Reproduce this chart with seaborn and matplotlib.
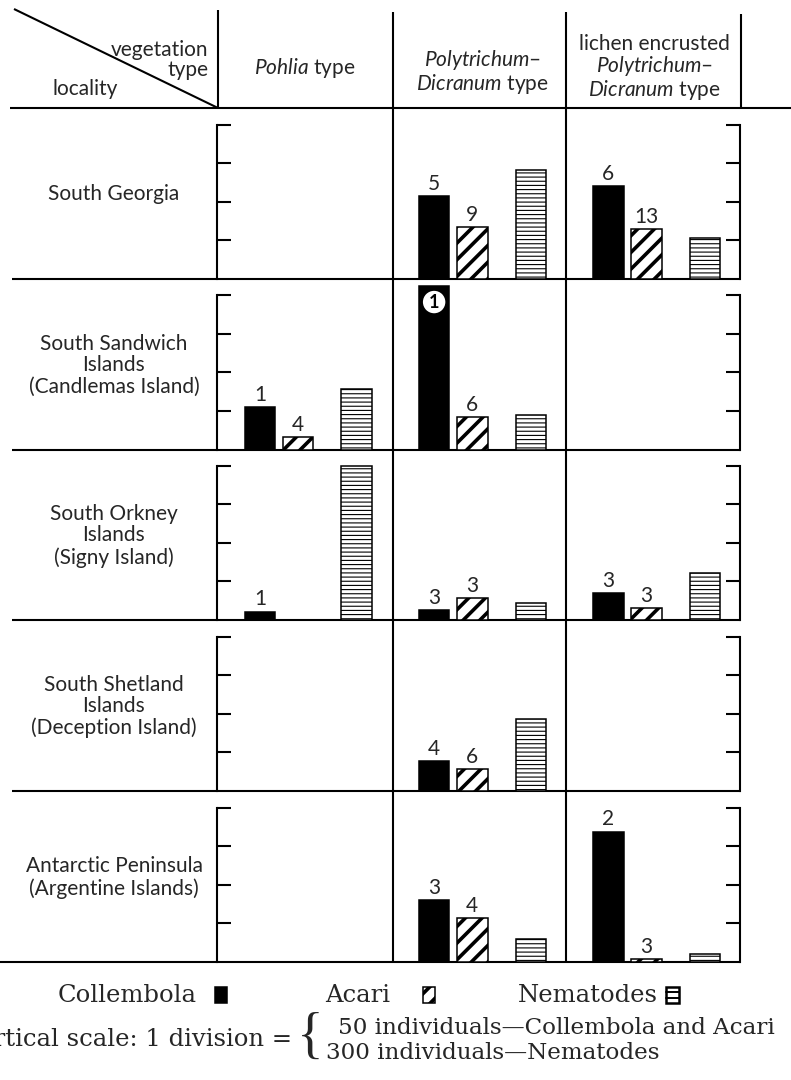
import numpy as np
import pandas as pd
import matplotlib
matplotlib.use("Agg")
import matplotlib.pyplot as plt
import seaborn as sns
from matplotlib.patches import Rectangle

sns.set_theme(style="white")
plt.rcParams["font.family"] = ["Lato", "DejaVu Sans"]
plt.rcParams["mathtext.fontset"] = "custom"
plt.rcParams["mathtext.rm"] = "Lato"
plt.rcParams["mathtext.it"] = "Lato:italic"
plt.rcParams["hatch.linewidth"] = 0.8

# ---------------------------------------------------------------- data
localities = [
    "South Georgia",
    "South Sandwich\nIslands\n(Candlemas Island)",
    "South Orkney\nIslands\n(Signy Island)",
    "South Shetland\nIslands\n(Deception Island)",
    "Antarctic Peninsula\n(Argentine Islands)",
]
vegetation = ["Pohlia", "Polytrichum-Dicranum", "lichen Polytrichum-Dicranum"]
taxa = ["Collembola", "Acari", "Nematodes"]
nan = np.nan

# mean numbers of individuals per sample (rows: locality, cols: vegetation type)
collembola = [[nan, 107, 120], [55, 212, nan], [11, 13, 35], [nan, 39, nan], [nan, 80, 169]]
acari = [[nan, 67, 65], [16, 42, nan], [nan, 28, 15], [nan, 29, nan], [nan, 57, 4]]
nematodes = [[nan, 846, 321], [471, 267, nan], [1194, 129, 363], [nan, 558, nan], [nan, 177, 66]]

# number of samples written above the bars
n_collembola = [[None, 5, 6], [1, 1, None], [1, 3, 3], [None, 4, None], [None, 3, 2]]
n_acari = [[None, 9, 13], [4, 6, None], [None, 3, 3], [None, 6, None], [None, 4, 3]]

# individuals represented by one scale division
per_division = {"Collembola": 50, "Acari": 50, "Nematodes": 300}

# ---------------------------------------------------------------- layout (pixels)
FW, FH = 791, 1080
fig = plt.figure(figsize=(FW / 100, FH / 100), dpi=100)
bg = fig.add_axes([0, 0, 1, 1])
bg.set_xlim(0, FW)
bg.set_ylim(FH, 0)
bg.axis("off")

COL_W = 174.3
COL_X0 = 218.0
DIV = 38.6
YTOP = 4.35
baselines = [279, 449.5, 620, 791, 962]
row_tops = [108] + baselines[:-1]
AX_L, AX_R = 217, 740
slot = {"Collembola": 0.240, "Acari": 0.459, "Nematodes": 0.795}

LW = 1.5
line_kw = dict(color="black", lw=LW, solid_capstyle="butt")

# header frame
bg.plot([14, 218], [9, 108], **line_kw)
bg.plot([10, 791], [108, 108], **line_kw)
bg.plot([218, 218], [10, 108], **line_kw)
bg.plot([741, 741], [14, 108], **line_kw)
for xs in (393, 566):
    bg.plot([xs, xs], [12, 962], **line_kw)
for i, b in enumerate(baselines):
    bg.plot([0 if i == len(baselines) - 1 else 12, 741], [b, b], **line_kw)

# header texts
HF = 15
bg.text(208, 60, "vegetation\ntype", ha="right", va="center", fontsize=HF,
        multialignment="right", linespacing=1.0)
bg.text(53, 89, "locality", ha="left", va="center", fontsize=HF)
bg.text(305, 68, r"$\mathit{Pohlia}$ type", ha="center", va="center", fontsize=HF)
bg.text(482, 72, "$\\mathit{Polytrichum}$\u2013\n$\\mathit{Dicranum}$ type",
        ha="center", va="center", fontsize=HF, linespacing=1.05)
bg.text(654, 68, "lichen encrusted\n$\\mathit{Polytrichum}$\u2013\n$\\mathit{Dicranum}$ type",
        ha="center", va="center", fontsize=HF, linespacing=1.0)

# locality labels
for name, top, b in zip(localities, row_tops, baselines):
    bg.text(114, (top + b) / 2 + 1, name, ha="center", va="center",
            fontsize=HF, multialignment="center", linespacing=1.1)


def style_bar(p, taxon):
    p.set_edgecolor("black")
    p.set_linewidth(1.1)
    if taxon == "Collembola":
        p.set_facecolor("black")
        p.set_hatch(None)
    elif taxon == "Acari":
        p.set_facecolor("white")
        p.set_hatch("//")
        if hasattr(p, "set_hatch_linewidth"):
            p.set_hatch_linewidth(2.6)
    else:
        p.set_facecolor("white")
        p.set_hatch("----")
        if hasattr(p, "set_hatch_linewidth"):
            p.set_hatch_linewidth(0.8)


series = {"Collembola": collembola, "Acari": acari, "Nematodes": nematodes}
counts = {"Collembola": n_collembola, "Acari": n_acari}

for r, b in enumerate(baselines):
    recs = []
    for t in taxa:
        for c in range(len(vegetation)):
            v = series[t][r][c]
            if not np.isnan(v):
                recs.append({"pos": c + slot[t], "div": v / per_division[t], "taxon": t})
    df = pd.DataFrame(recs)

    ax = fig.add_axes([AX_L / FW, (FH - b) / FH, (AX_R - AX_L) / FW, YTOP * DIV / FH])
    sns.barplot(data=df, x="pos", y="div", hue="taxon", hue_order=taxa,
                palette={"Collembola": "black", "Acari": "white", "Nematodes": "white"},
                native_scale=True, dodge=False, errorbar=None, legend=False,
                width=0.8, saturation=1, ax=ax)
    for p in ax.patches:
        cx = p.get_x() + p.get_width() / 2
        frac = cx - np.floor(cx + 1e-9)
        t = min(slot, key=lambda k: abs(slot[k] - frac))
        style_bar(p, t)
        p.set_zorder(3)

    ax.set_xlim((AX_L - COL_X0) / COL_W, (AX_R - COL_X0) / COL_W)
    ax.set_ylim(0, YTOP)
    ax.set_facecolor("none")
    ax.grid(False)
    ax.set_xlabel("")
    ax.set_ylabel("")
    ax.set_xticks([])
    ax.set_yticks([1, 2, 3, 4])
    ax.tick_params(axis="y", left=True, right=True, direction="in", length=10,
                   width=LW, color="black", labelleft=False, labelright=False)
    for s in ("top", "bottom"):
        ax.spines[s].set_visible(False)
    for s in ("left", "right"):
        ax.spines[s].set_visible(True)
        ax.spines[s].set_color("black")
        ax.spines[s].set_linewidth(LW)
        ax.spines[s].set_bounds(0, 4)

    # sample counts above the bars
    for t in ("Collembola", "Acari"):
        for c in range(len(vegetation)):
            n = counts[t][r][c]
            v = series[t][r][c]
            if n is None or np.isnan(v):
                continue
            h = v / per_division[t]
            x = c + slot[t]
            if h > 4:
                ax.text(x, h - 0.42, str(n), ha="center", va="center", fontsize=13,
                        fontweight="bold", color="black", zorder=5,
                        bbox=dict(boxstyle="circle,pad=0.15", fc="white", ec="none"))
            else:
                ax.annotate(str(n), (x, h), xytext=(0, 1.5), textcoords="offset points",
                            ha="center", va="bottom", fontsize=15, zorder=5)

# ---------------------------------------------------------------- key
SERIF = ["DejaVu Serif"]
KF = 17.5
ky = 995
bg.text(58, ky, "Collembola", ha="left", va="center", fontsize=KF, family=SERIF)
bg.text(325, ky, "Acari", ha="left", va="center", fontsize=KF, family=SERIF)
bg.text(518, ky, "Nematodes", ha="left", va="center", fontsize=KF, family=SERIF)

sq = Rectangle((215, ky - 8), 12, 16)
bg.add_patch(sq)
style_bar(sq, "Collembola")
sq = Rectangle((423, ky - 8), 12, 16)
bg.add_patch(sq)
style_bar(sq, "Acari")
sq = Rectangle((666, ky - 8), 13, 16, facecolor="white", edgecolor="black", lw=1.8)
bg.add_patch(sq)
for yy in (ky - 8 + 16 / 3, ky - 8 + 32 / 3):
    bg.plot([666, 679], [yy, yy], color="black", lw=1.4)

bg.text(292, 1040, "Vertical scale: 1 division =", ha="right", va="center",
        fontsize=KF, family=SERIF)
bg.text(310, 1039, "{", ha="center", va="center", fontsize=40,
        family=["Liberation Serif"])
bg.text(338, 1028, "50 individuals\u2014Collembola and Acari", ha="left", va="center",
        fontsize=16.6, family=SERIF)
bg.text(326, 1053, "300 individuals\u2014Nematodes", ha="left", va="center",
        fontsize=16.6, family=SERIF)

fig.savefig("out.png", dpi=100)
